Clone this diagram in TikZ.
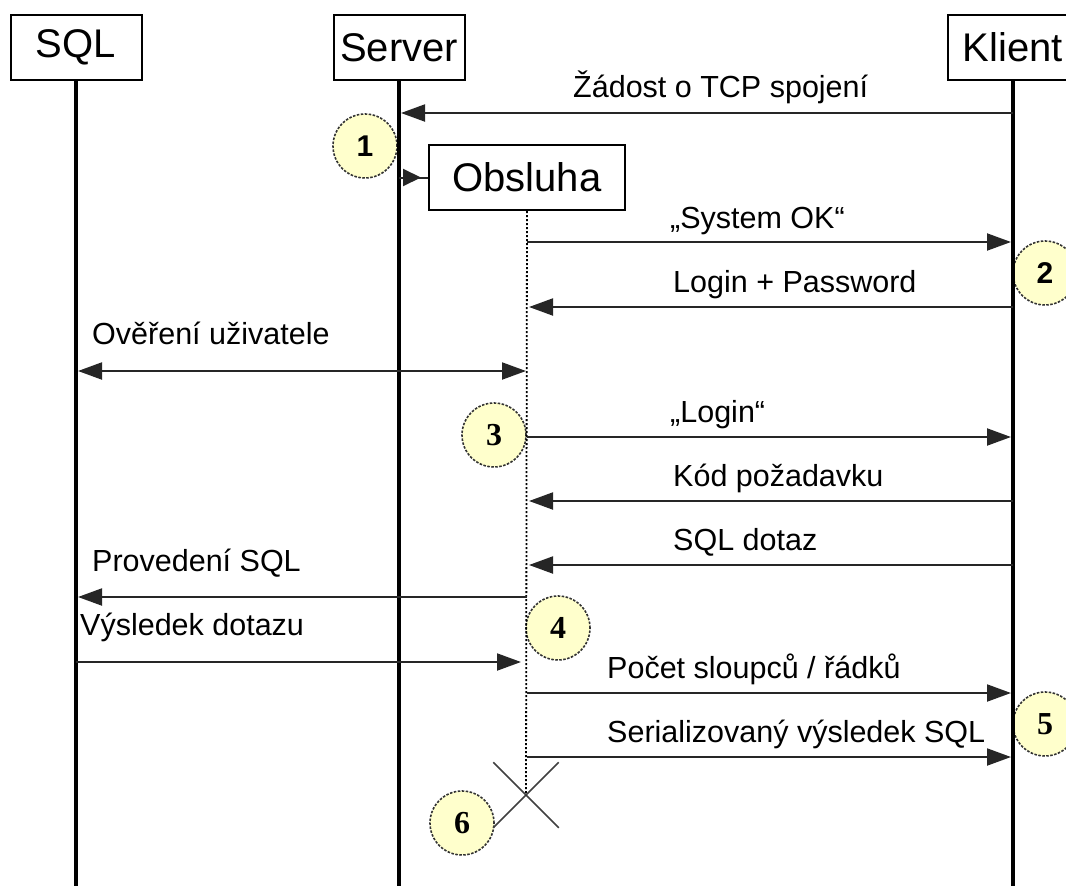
\documentclass[tikz,border=0pt]{standalone}
\usepackage{fontspec}
\setmainfont{Liberation Sans}
\newfontfamily\digsans{Liberation Sans}
\newfontfamily\digserif{Liberation Serif}
\usetikzlibrary{arrows.meta,shapes.misc}
\definecolor{badgefill}{HTML}{FFFFCC}

\begin{document}
\begin{tikzpicture}[x=1pt,y=-1pt,
  actor/.style={draw=black, line width=2pt, fill=white, minimum width=131pt,
    minimum height=65pt, inner sep=0pt, font=\fontsize{40}{44}\selectfont},
  life/.style={line width=4pt},
  actline/.style={line width=1.8pt, dash pattern=on 2pt off 2pt},
  msg/.style={line width=2pt, draw=black!85},
  tip/.style={-{Triangle[length=24pt,width=17pt]}, shorten >=2pt},
  lbl/.style={font=\fontsize{30.5}{34}\selectfont, inner sep=0pt, anchor=base west},
  badge/.style={circle, draw=black!80, line width=1.6pt, dash pattern=on 2.5pt off 1.5pt,
    fill=badgefill, minimum size=64pt, inner sep=0pt,
    font=\digsans\fontsize{30}{30}\selectfont\bfseries},
  serifbadge/.style={badge, font=\digserif\fontsize{32}{32}\selectfont\bfseries},
  ender/.style={cross out, draw=black!75, line width=1.5pt, minimum size=64pt, inner sep=0pt}
]
\useasboundingbox (0,0) rectangle (1066,886);
\clip (0,0) rectangle (1066,886);

% rows of the messages
\coordinate (bottom) at (0,886);
\coordinate (yZ) at (0,113);
\coordinate (yS) at (0,242);
\coordinate (yL) at (0,307);
\coordinate (yO) at (0,371);
\coordinate (yG) at (0,437);
\coordinate (yK) at (0,501);
\coordinate (yQ) at (0,565);
\coordinate (yP) at (0,597);
\coordinate (yV) at (0,662);
\coordinate (yN) at (0,693);
\coordinate (yR) at (0,757);

% step markers
\node[badge] (b1) at (365,146) {1};
\node[badge] (b2) at (1045,273) {2};
\node[serifbadge] (b3) at (494,435) {3};
\node[serifbadge] (b4) at (558,628) {4};
\node[serifbadge] (b5) at (1045,724) {5};
\node[serifbadge] (b6) at (462,823) {6};

% participants
\node[actor] (sql) at (76,47.5) {SQL};
\node[actor] (server) at (399,47.5) {Server};
\node[actor] (klient) at (1013,47.5) {Klient};
\node[actor, minimum width=196pt] (obs) at (527,177.5) {Obsluha};
\node[ender] (end) at (526,795) {};

% lifelines
\draw[life] (sql.south) -- (sql |- bottom);
\draw[life] (server.south) -- (server |- bottom);
\draw[life] (klient.south) -- (klient |- bottom);
\draw[actline] (obs.south) -- (end.center);

% creation of the handler
\coordinate (ctip) at (421,177.5);
\draw[msg] (server |- obs) -- (obs.west);
\draw[msg, -{Triangle[length=18pt,width=17pt]}] (server |- obs) -- (ctip);

% messages
\draw[msg,tip] (klient |- yZ) -- (server |- yZ);
\draw[msg,tip] (obs |- yS) -- (klient |- yS);
\draw[msg,tip] (klient |- yL) -- (obs |- yL);
\draw[msg, {Triangle[length=24pt,width=17pt]}-{Triangle[length=24pt,width=17pt]},
  shorten <=2pt, shorten >=1pt] (sql |- yO) -- (obs |- yO);
\draw[msg,tip] (obs |- yG) -- (klient |- yG);
\draw[msg,tip] (klient |- yK) -- (obs |- yK);
\draw[msg,tip] (klient |- yQ) -- (obs |- yQ);
\draw[msg,tip] (obs |- yP) -- (sql |- yP);
\draw[msg,tip, shorten >=6pt] (sql |- yV) -- (obs |- yV);
\draw[msg,tip] (obs |- yN) -- (klient |- yN);
\draw[msg,tip] (obs |- yR) -- (klient |- yR);

% message labels
\node[lbl] (lZ) at (573,97) {Žádost o TCP spojení};
\node[lbl] (lS) at (670,228) {„System OK“};
\node[lbl] (lL) at (673,292) {Login + Password};
\node[lbl] (lO) at (92,344) {Ověření uživatele};
\node[lbl] (lG) at (670,422) {„Login“};
\node[lbl] (lK) at (673,486) {Kód požadavku};
\node[lbl] (lQ) at (673,550) {SQL dotaz};
\node[lbl] (lP) at (92,571) {Provedení SQL};
\node[lbl] (lV) at (80,635) {Výsledek dotazu};
\node[lbl] (lN) at (607,678) {Počet sloupců / řádků};
\node[lbl] (lR) at (607,742) {Serializovaný výsledek SQL};
\end{tikzpicture}
\end{document}
